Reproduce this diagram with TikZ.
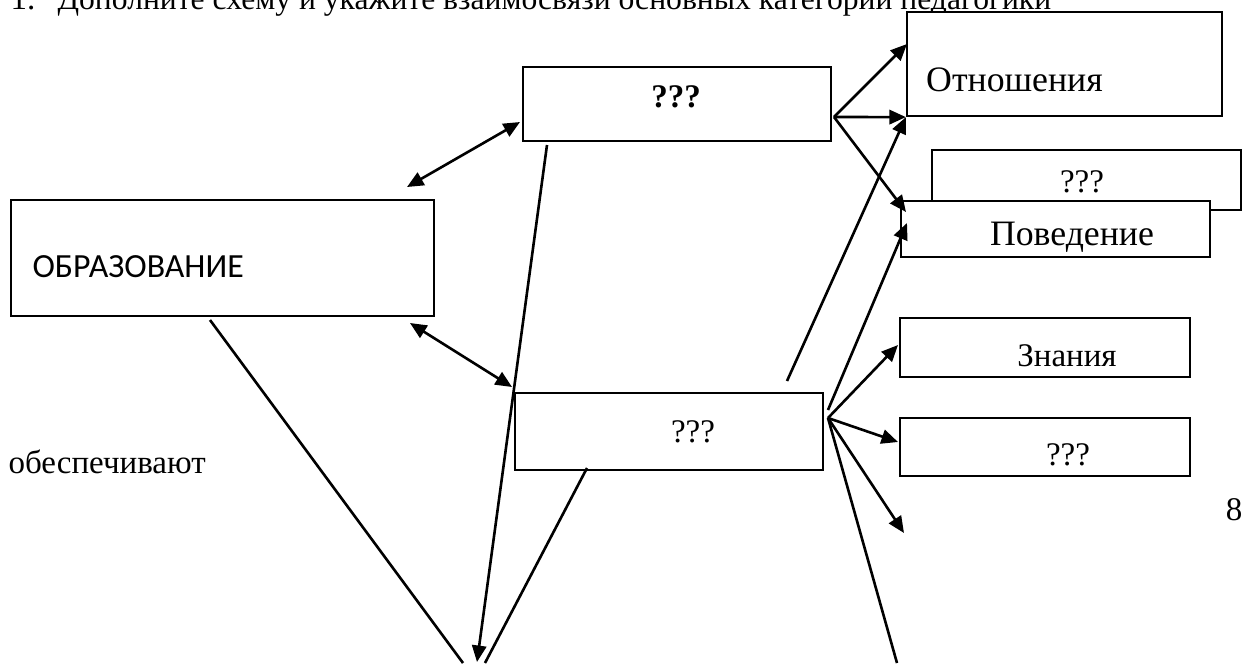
\documentclass[tikz,border=0pt]{standalone}
\usepackage{fontspec}
\setmainfont{Liberation Serif}
\newfontfamily\calfont{Carlito}
\usetikzlibrary{arrows.meta}
\newdimen\pxu
\pxu=0.3636pt

\begin{document}
\begin{tikzpicture}[x=0.3636pt,y=-0.3636pt,
        box/.style={draw, line width=0.8pt, fill=white, inner sep=0pt},
        txt/.style={inner sep=0pt, font=\fontsize{12}{14}\selectfont},
        big/.style={inner sep=0pt, font=\fontsize{13}{15}\selectfont},
        lnk/.style={line width=0.95pt, -{Triangle[length=6pt,width=5.2pt]}},
        dbl/.style={line width=0.95pt, {Triangle[length=6pt,width=5.2pt]}-{Triangle[length=6pt,width=5.2pt]}},
        ln/.style={line width=0.95pt}]
        \useasboundingbox (0,0) rectangle (1242,663);

        % title, cut by the page edge
        \node[txt, anchor=base west] (num) at (10,9) {1.};
        \node[inner sep=0pt, font=\fontsize{11.5}{14}\selectfont, anchor=base west] (ttl) at (57,9) {Дополните схему и укажите взаимосвязи основных категорий педагогики};

        % boxes
        \node[box, minimum width=423*\pxu, minimum height=116*\pxu] (obr) at (222.5,258) {};
        \node[box, minimum width=308*\pxu, minimum height=74*\pxu] (q1) at (677,104) {};
        \node[box, minimum width=308*\pxu, minimum height=77*\pxu] (q3) at (669,431.5) {};
        \node[box, minimum width=315*\pxu, minimum height=104*\pxu] (otn) at (1064.5,64) {};
        \node[box, minimum width=309*\pxu, minimum height=60*\pxu] (q2) at (1086.5,180) {};
        \node[box, minimum width=309*\pxu, minimum height=56*\pxu] (pov) at (1055.5,229) {};
        \node[box, minimum width=290*\pxu, minimum height=59*\pxu] (zn) at (1045,347.5) {};
        \node[box, minimum width=290*\pxu, minimum height=58*\pxu] (q4) at (1045,447) {};

        % texts
        \node[inner sep=0pt, font=\fontsize{12.3}{14}\selectfont, anchor=base west] (obrt) at (32,277) {\calfont ОБРАЗОВАНИЕ};
        \node[txt] (q1t) at (676,97) {\bfseries ???};
        \node[txt] (q3t) at (693,432) {???};
        \node[big] (otnt) at (1014.5,80) {Отношения};
        \node[txt] (q2t) at (1082,182) {???};
        \node[big] (povt) at (1072,237) {Поведение};
        \node[txt] (znt) at (1067,356) {Знания};
        \node[txt] (q4t) at (1068,455) {???};
        \node[txt, anchor=base west] (obes) at (8,473) {обеспечивают};
        \node[txt] (pg) at (1234,510) {8};

        % connector ends
        \coordinate (hubA) at (834,117);
        \coordinate (hubB) at (828,418);
        \coordinate (otnA) at (907,44);
        \coordinate (povA) at (906,212);
        \coordinate (povB) at (907,223);
        \coordinate (q3A) at (787,381);
        \coordinate (q3B) at (828,410);
        \coordinate (znA) at (898,345);
        \coordinate (q4A) at (898,442);
        \coordinate (freeA) at (904,533);
        \coordinate (freeB) at (897,663);
        \coordinate (q1A) at (520,122);
        \coordinate (obrA) at (407,187);
        \coordinate (obrB) at (410,323);
        \coordinate (q3C) at (512,387);
        \coordinate (q1B) at (547,145);
        \coordinate (botA) at (477,662);
        \coordinate (obrC) at (210,320);
        \coordinate (botB) at (463,663);
        \coordinate (q3D) at (587,468);
        \coordinate (botC) at (485,663);

        % connectors
        \draw[lnk] (hubA) -- (otnA);
        \draw[lnk] (hubA) -- (otn.south west);
        \draw[lnk] (hubA) -- (povA);
        \draw[lnk] (q3A) -- (otn.south west);
        \draw[lnk] (q3B) -- (povB);
        \draw[lnk] (hubB) -- (znA);
        \draw[lnk] (hubB) -- (q4A);
        \draw[lnk] (hubB) -- (freeA);
        \draw[ln] (hubB) -- (freeB);
        \draw[dbl] (q1A) -- (obrA);
        \draw[dbl] (obrB) -- (q3C);
        \draw[lnk] (q1B) -- (botA);
        \draw[ln] (obrC) -- (botB);
        \draw[ln] (q3D) -- (botC);
\end{tikzpicture}
\end{document}
